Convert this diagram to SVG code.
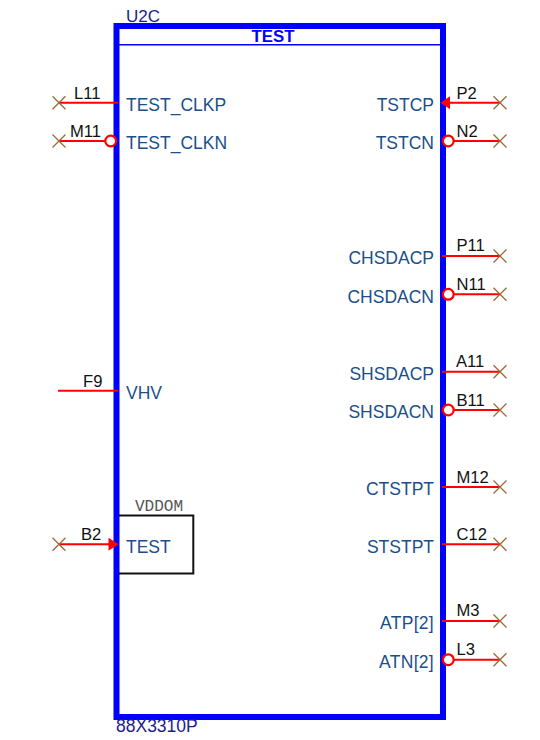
<svg xmlns="http://www.w3.org/2000/svg" width="540" height="740" viewBox="0 0 540 740">
<style>
text{font-family:"Liberation Sans",Arial,sans-serif}
.pin{font-size:17.5px;fill:#1a4f8a}
.r{text-anchor:end}
.wide{letter-spacing:.3px}
.num{font-size:16.6px;fill:#111}
.ref{font-size:17px;fill:#1c1c8c}
.w{stroke:#f00;stroke-width:2;fill:none}
.c{stroke:#f00;stroke-width:2.2;fill:#fff}
.x{stroke:#a0683a;stroke-width:1.3;fill:none}
.a{fill:#f00;stroke:none}
</style>
<defs>
<g id="nc"><path class="x" d="M-6.5-6.5L6.5 6.5M-6.5 6.5L6.5-6.5"/></g>
</defs>
<g id="part">
<rect x="116.5" y="26" width="326.5" height="691" fill="#fff" stroke="#00f" stroke-width="6"/>
<path d="M119 44.8H440" stroke="#00f" stroke-width="1.5"/>
<text x="273" y="41.500" text-anchor="middle" font-size="16.800" font-weight="bold" fill="#00f">TEST</text>
<text class="ref" x="126" y="21.500">U2C</text>
<text class="ref" x="116" y="732" style="font-size:17.5px">88X3310P</text>
</g>
<g id="vddom">
<path d="M119 515.5H193.3V573.5H119" fill="none" stroke="#111" stroke-width="2"/>
<text x="135" y="511" font-size="16" fill="#555" style="font-family:'Liberation Mono',monospace">VDDOM</text>
</g>
<g id="connectors">
<path class="w" d="M59 102.7H118M59 141H105M58 390.7H118M59 544.3H110"/>
<path class="w" d="M449 102.7H500M454 141H500M442 256H500M454 294.3H500M442 371.7H500M454 410H500M442 487H500M442 544.3H500M442 621H500M454 659.7H500"/>
<path class="a" d="M108.500 537.800L118.500 544.300L108.500 550.800Z"/>
<path class="a" d="M450 96.200V109.200L440.500 102.700Z"/>
</g>
<g id="pin-L11"><use href="#nc" x="59" y="102.7"/><text class="num" x="74" y="98.7">L11</text><text class="pin" x="126" y="111">TEST_CLKP</text></g>
<g id="pin-M11"><use href="#nc" x="59" y="141"/><circle class="c" cx="110.7" cy="141" r="5.4"/><text class="num" x="70" y="137">M11</text><text class="pin" x="126" y="149">TEST_CLKN</text></g>
<g id="pin-F9"><text class="num" x="83" y="387">F9</text><text class="pin" x="126" y="399">VHV</text></g>
<g id="pin-B2"><use href="#nc" x="59" y="544.3"/><text class="num" x="81" y="540">B2</text><text class="pin" x="126" y="553">TEST</text></g>
<g id="pin-P2"><use href="#nc" x="500" y="102.7"/><text class="num" x="456.500" y="98.7">P2</text><text class="pin r" x="434" y="111">TSTCP</text></g>
<g id="pin-N2"><use href="#nc" x="500" y="141"/><circle class="c" cx="448.300" cy="141" r="5.4"/><text class="num" x="456.500" y="137">N2</text><text class="pin r" x="434" y="149">TSTCN</text></g>
<g id="pin-P11"><use href="#nc" x="500" y="256"/><text class="num" x="456.500" y="251">P11</text><text class="pin r" x="434" y="264">CHSDACP</text></g>
<g id="pin-N11"><use href="#nc" x="500" y="294.3"/><circle class="c" cx="448.300" cy="294.300" r="5.4"/><text class="num" x="456.500" y="290">N11</text><text class="pin r" x="434" y="303">CHSDACN</text></g>
<g id="pin-A11"><use href="#nc" x="500" y="371.7"/><text class="num" x="456" y="367">A11</text><text class="pin r" x="434" y="380">SHSDACP</text></g>
<g id="pin-B11"><use href="#nc" x="500" y="410"/><circle class="c" cx="448.300" cy="410" r="5.4"/><text class="num" x="456.500" y="406">B11</text><text class="pin r" x="434" y="418">SHSDACN</text></g>
<g id="pin-M12"><use href="#nc" x="500" y="487"/><text class="num" x="456.500" y="483">M12</text><text class="pin r" x="434" y="495">CTSTPT</text></g>
<g id="pin-C12"><use href="#nc" x="500" y="544.3"/><text class="num" x="456.500" y="540">C12</text><text class="pin r" x="434" y="553">STSTPT</text></g>
<g id="pin-M3"><use href="#nc" x="500" y="621"/><text class="num" x="456.500" y="616">M3</text><text class="pin r wide" x="434" y="629">ATP[2]</text></g>
<g id="pin-L3"><use href="#nc" x="500" y="659.7"/><circle class="c" cx="448.300" cy="659.700" r="5.4"/><text class="num" x="456.500" y="655">L3</text><text class="pin r wide" x="434" y="668">ATN[2]</text></g>
</svg>
